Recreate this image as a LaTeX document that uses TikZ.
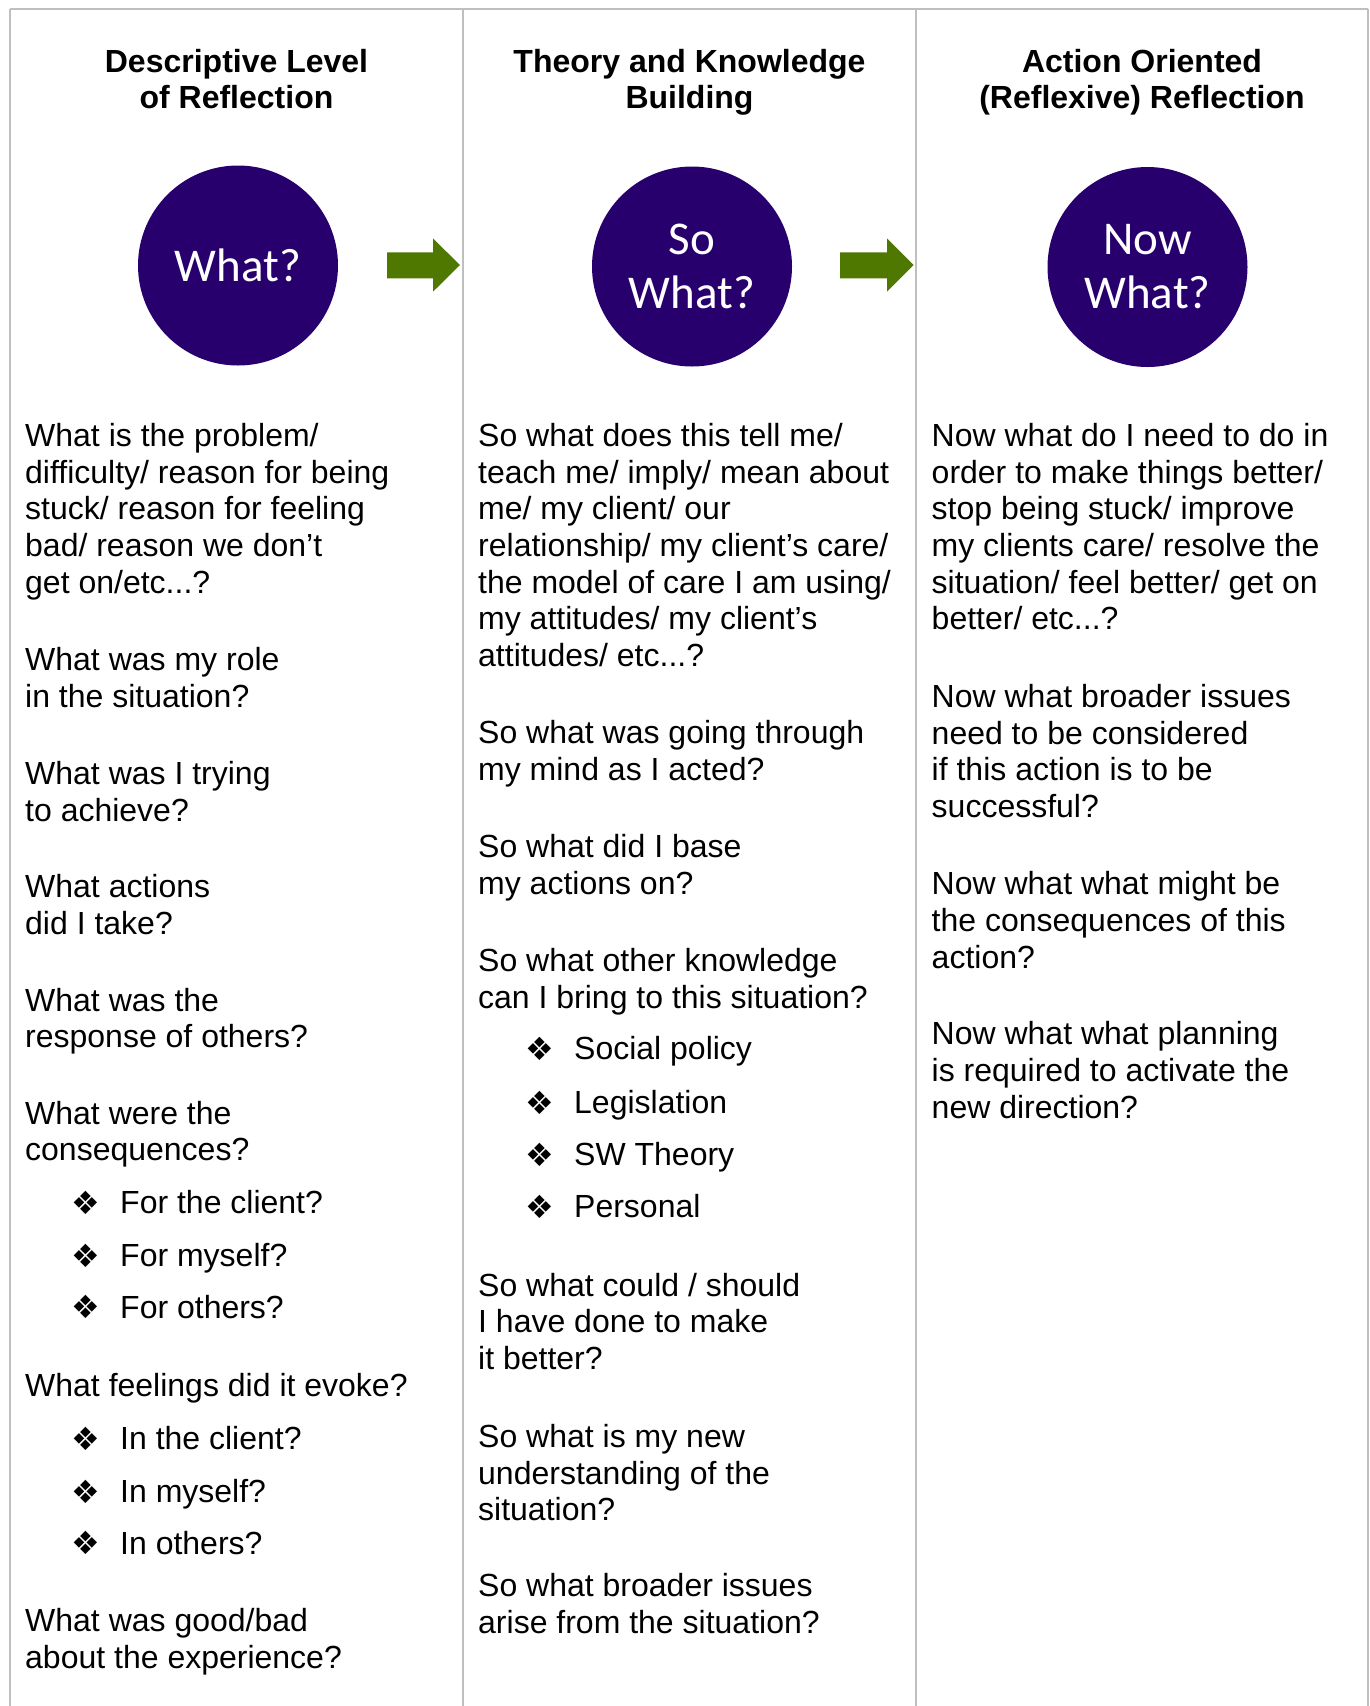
\documentclass[tikz,border=0pt]{standalone}
\usepackage{fontspec}
\setmainfont{Liberation Sans}
\newfontfamily\circfont{Carlito}
\newfontfamily\symfont{DejaVu Sans}
\definecolor{indigo}{RGB}{40,0,110}
\definecolor{arrowgreen}{RGB}{78,120,0}
\definecolor{rulegrey}{RGB}{191,191,191}
\tikzset{
  body/.style={anchor=base west, inner sep=0pt, font=\fontsize{32}{36.7}\selectfont},
  head/.style={anchor=base, inner sep=0pt, font=\bfseries\fontsize{32}{36}\selectfont},
  bul/.style={anchor=center, inner sep=0pt, font=\symfont\fontsize{32}{36}\selectfont},
  stage/.style={circle, fill=indigo, minimum size=200pt, inner sep=0pt, text=white, align=center, font=\circfont\fontsize{47}{54}\selectfont},
  grid/.style={draw=rulegrey, line width=2pt},
  blockarrow/.style={fill=arrowgreen}
}
\newcommand\mypara[4]{\foreach \linetxt [count=\i from 0] in {#4} {\node[body] (#1-\i) at (#2, {#3+\i*36.7}) {\linetxt};}}
\newcommand\mybul[4]{\node[bul] (#1b) at ({#2+0.5}, {#3-10.8}) {❖}; \node[body] (#1t) at ({#2+35}, #3) {#4};}
\begin{document}
\begin{tikzpicture}[x=1pt, y=-1pt]
\useasboundingbox (0,0) rectangle (1370,1706);
% frame
\coordinate (tl) at (10,9);
\coordinate (tr) at (1368,9);
\draw[grid] (tl) -- (tr);
\foreach \xx [count=\k] in {10,463,916,1368} {\draw[grid] (\xx,9) coordinate (v\k top) -- (\xx,1706) coordinate (v\k bot);}
% headers
\node[head] (h1a) at (236.5,72.4) {Descriptive Level};
\node[head] (h1b) at (236.5,108.4) {of Reflection};
\node[head] (h2a) at (689.5,72.4) {Theory and Knowledge};
\node[head] (h2b) at (689.5,108.4) {Building};
\node[head] (h3a) at (1142,72.4) {Action Oriented};
\node[head] (h3b) at (1142,108.4) {(Reflexive) Reflection};
% circles
\node[stage] (what) at (238,265.5) {What?};
\node[stage] (sowhat) at (692,266.5) {So\\What?};
\node[stage] (nowwhat) at (1147.5,267) {Now\\What?};
% arrows
\fill[blockarrow] (387,252.3) -- (433,252.3) -- (433,238.5) -- (460,265) -- (433,291.7) -- (433,278.3) -- (387,278.3) -- cycle;
\fill[blockarrow] (840,252.3) -- (887,252.3) -- (887,238.5) -- (913.5,265) -- (887,291.7) -- (887,278.3) -- (840,278.3) -- cycle;
% column 1
\mypara{a1}{25}{446.3}{{What is the problem/},{difficulty/ reason for being},{stuck/ reason for feeling},{bad/ reason we don’t},{get on/etc.{}.{}.?}}
\mypara{a2}{25}{670.4}{{What was my role},{in the situation?}}
\mypara{a3}{25}{784.7}{{What was I trying},{to achieve?}}
\mypara{a4}{25}{897.9}{{What actions},{did I take?}}
\mypara{a5}{25}{1011.1}{{What was the},{response of others?}}
\mypara{a6}{25}{1124.2}{{What were the},{consequences?}}
\mybul{a6x}{85}{1213.5}{For the client?}
\mybul{a6y}{85}{1266.9}{For myself?}
\mybul{a6z}{85}{1318.0}{For others?}
\mypara{a7}{25}{1396.3}{{What feelings did it evoke?}}
\mybul{a7x}{85}{1449.6}{In the client?}
\mybul{a7y}{85}{1502.9}{In myself?}
\mybul{a7z}{85}{1554.1}{In others?}
\mypara{a8}{25}{1631.3}{{What was good/bad},{about the experience?}}
% column 2
\mypara{b1}{478}{446.3}{{So what does this tell me/},{teach me/ imply/ mean about},{me/ my client/ our},{relationship/ my client’s care/},{the model of care I am using/},{my attitudes/ my client’s},{attitudes/ etc.{}.{}.?}}
\mypara{b2}{478}{743.4}{{So what was going through},{my mind as I acted?}}
\mypara{b3}{478}{857.6}{{So what did I base},{my actions on?}}
\mypara{b4}{478}{971.9}{{So what other knowledge},{can I bring to this situation?}}
\mybul{b4w}{539}{1059.5}{Social policy}
\mybul{b4x}{539}{1113.3}{Legislation}
\mybul{b4y}{539}{1165.6}{SW Theory}
\mybul{b4z}{539}{1217.8}{Personal}
\mypara{b5}{478}{1296.2}{{So what could / should},{I have done to make},{it better?}}
\mypara{b6}{478}{1447.4}{{So what is my new},{understanding of the},{situation?}}
\mypara{b7}{478}{1596.5}{{So what broader issues},{arise from the situation?}}
% column 3
\mypara{c1}{931.5}{446.3}{{Now what do I need to do in},{order to make things better/},{stop being stuck/ improve},{my clients care/ resolve the},{situation/ feel better/ get on},{better/ etc.{}.{}.?}}
\mypara{c2}{931.5}{707.4}{{Now what broader issues},{need to be considered},{if this action is to be},{successful?}}
\mypara{c3}{931.5}{894.6}{{Now what what might be},{the consequences of this},{action?}}
\mypara{c4}{931.5}{1044.8}{{Now what what planning},{is required to activate the},{new direction?}}
\end{tikzpicture}
\end{document}
